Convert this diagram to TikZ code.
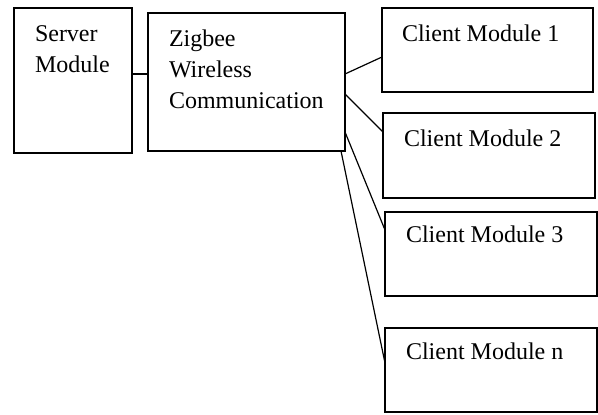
\documentclass[tikz,border=0pt]{standalone}
\usepackage{fontspec}
\setmainfont{Liberation Serif}
\usetikzlibrary{fit}
\begin{document}
\begin{tikzpicture}[x=0.5pt,y=-0.5pt,
  box/.style={draw=black,line width=0.65pt,inner sep=0pt,outer sep=0pt},
  lbl/.style={anchor=base west,inner sep=0pt,outer sep=0pt,
    font=\fontsize{12}{15.5}\selectfont},
  link/.style={draw=black,line width=0.6pt}]
\useasboundingbox (0,0) rectangle (598,415);

% module boxes
\node[box,fit={(14,8) (132,153)}]  (server) {};
\node[box,fit={(148,13) (345,151)}] (zig) {};
\node[box,fit={(382,8) (593,92)}]   (c1) {};
\node[box,fit={(383,113) (595,198)}] (c2) {};
\node[box,fit={(385,212) (597,296)}] (c3) {};
\node[box,fit={(385,328) (597,412)}] (cn) {};

% labels
\node[lbl] (servertxt) at (35,42)
  {\begin{tabular}[t]{@{}l@{}}Server\\Module\end{tabular}};
\node[lbl] (zigtxt) at (169,47)
  {\begin{tabular}[t]{@{}l@{}}Zigbee\\Wireless\\Communication\end{tabular}};
\node[lbl] (c1txt) at (402,42)  {Client Module 1};
\node[lbl] (c2txt) at (404,147) {Client Module 2};
\node[lbl] (c3txt) at (406,243) {Client Module 3};
\node[lbl] (cntxt) at (406,360) {Client Module n};

% links
\draw[link] (server.east |- 0,74) -- (zig.west |- 0,74);
\draw[link] (zig.east |- 0,74)  -- (c1.west |- 0,57);
\draw[link] (zig.east |- 0,94)  -- (c2.west |- 0,132);
\draw[link] (zig.east |- 0,132) -- (c3.west |- 0,230);
\draw[link] (zig.south -| 341,0) -- (cn.west |- 0,363);
\end{tikzpicture}
\end{document}
